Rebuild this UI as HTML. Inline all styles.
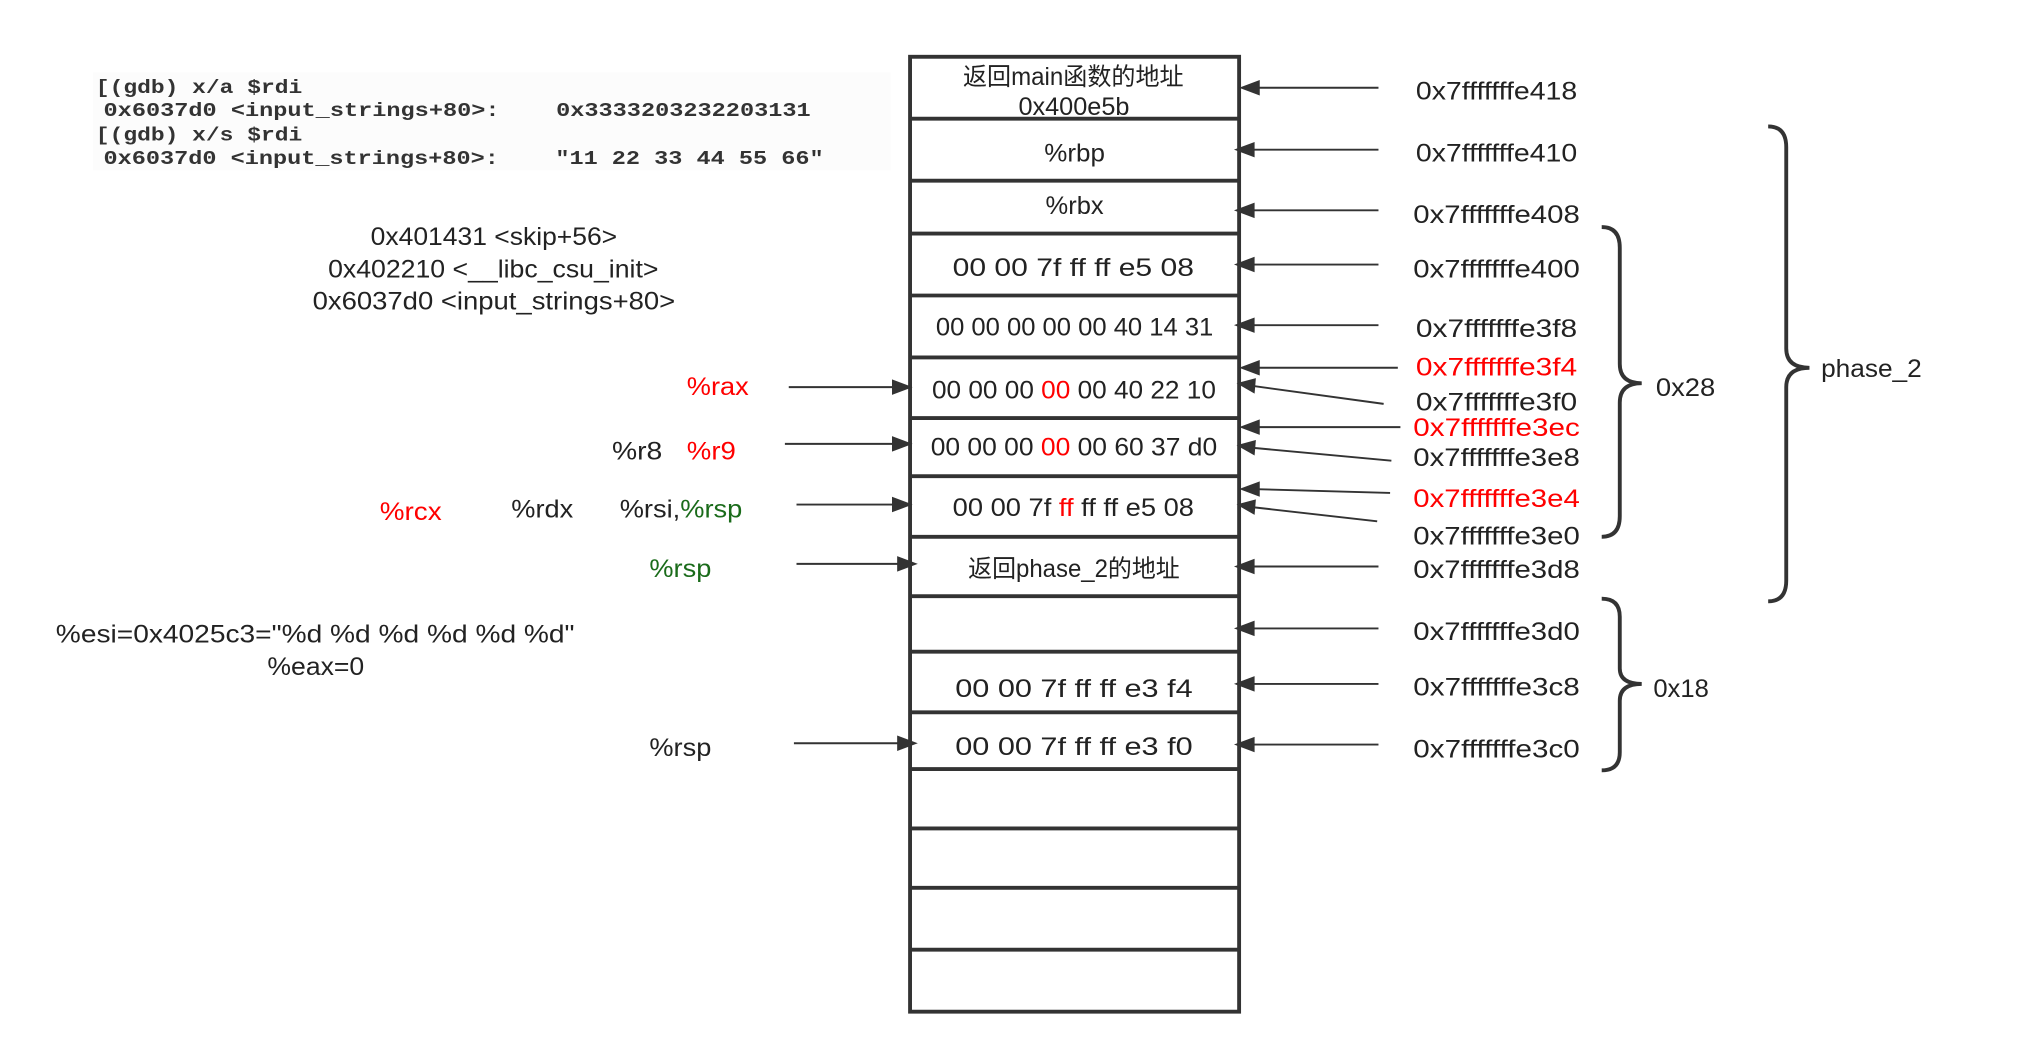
<!DOCTYPE html>
<html><head><meta charset="utf-8"><style>
html,body{margin:0;padding:0;background:#fff;}
svg{display:block;}
text{font-family:"Liberation Sans","Noto Sans CJK SC",sans-serif;fill:#222;}
.m{font-family:"Liberation Mono","DejaVu Sans Mono",monospace;font-weight:bold;fill:#333;font-size:15px;white-space:pre;}
.r{fill:#f00;}
.g{fill:#1a6b1a;}
</style></head><body>
<svg width="2024" height="1062" viewBox="0 0 1568 823" xmlns="http://www.w3.org/2000/svg">
<rect x="72" y="56" width="618" height="76" fill="#fcfcfc"/>
<text class="m" x="74" y="72" textLength="160" lengthAdjust="spacingAndGlyphs" xml:space="preserve">[(gdb) x/a $rdi</text>
<text class="m" x="80" y="90" textLength="548" lengthAdjust="spacingAndGlyphs" xml:space="preserve">0x6037d0 &lt;input_strings+80&gt;:    0x3333203232203131</text>
<text class="m" x="74" y="109" textLength="160" lengthAdjust="spacingAndGlyphs" xml:space="preserve">[(gdb) x/s $rdi</text>
<text class="m" x="80" y="127" textLength="558" lengthAdjust="spacingAndGlyphs" xml:space="preserve">0x6037d0 &lt;input_strings+80&gt;:    "11 22 33 44 55 66"</text>
<g font-size="19" lengthAdjust="spacingAndGlyphs">
<text x="287" y="190" textLength="191" lengthAdjust="spacingAndGlyphs">0x401431 &lt;skip+56&gt;</text>
<text x="254" y="215" textLength="256" lengthAdjust="spacingAndGlyphs">0x402210 &lt;__libc_csu_init&gt;</text>
<text x="242" y="240" textLength="281" lengthAdjust="spacingAndGlyphs">0x6037d0 &lt;input_strings+80&gt;</text>
<text x="207" y="523" textLength="75" lengthAdjust="spacingAndGlyphs">%eax=0</text>
<text x="43" y="498" textLength="402" lengthAdjust="spacingAndGlyphs">%esi=0x4025c3="%d %d %d %d %d %d"</text>
<text class="r" x="532" y="306" textLength="48" lengthAdjust="spacingAndGlyphs">%rax</text>
<text x="474" y="356" textLength="39" lengthAdjust="spacingAndGlyphs">%r8</text>
<text class="r" x="532" y="356" textLength="38" lengthAdjust="spacingAndGlyphs">%r9</text>
<text class="r" x="294" y="403" textLength="48" lengthAdjust="spacingAndGlyphs">%rcx</text>
<text x="396" y="401" textLength="48" lengthAdjust="spacingAndGlyphs">%rdx</text>
<text x="480" y="401" textLength="95" lengthAdjust="spacingAndGlyphs">%rsi,<tspan class="g">%rsp</tspan></text>
<text class="g" x="503" y="447" textLength="48" lengthAdjust="spacingAndGlyphs">%rsp</text>
<text x="503" y="586" textLength="48" lengthAdjust="spacingAndGlyphs">%rsp</text>
</g>
<g stroke="#333" stroke-width="3" fill="none">
<rect x="705" y="44" width="255" height="740"/>
<path d="M705 92H960M705 140H960M705 181H960M705 229H960M705 277H960M705 324H960M705 369H960M705 416H960M705 462H960M705 505H960M705 552H960M705 596H960M705 642H960M705 688H960M705 736H960"/>
</g>
<g font-size="19">
<text x="746" y="66" textLength="171" lengthAdjust="spacingAndGlyphs">返回main函数的地址</text>
<text x="789" y="89" textLength="86" lengthAdjust="spacingAndGlyphs">0x400e5b</text>
<text x="809" y="125" textLength="47" lengthAdjust="spacingAndGlyphs">%rbp</text>
<text x="810" y="166" textLength="45" lengthAdjust="spacingAndGlyphs">%rbx</text>
<text x="738" y="214" textLength="187" lengthAdjust="spacingAndGlyphs">00 00 7f ff ff e5 08</text>
<text x="725" y="260" textLength="215" lengthAdjust="spacingAndGlyphs">00 00 00 00 00 40 14 31</text>
<text x="722" y="309" textLength="220" lengthAdjust="spacingAndGlyphs">00 00 00 <tspan class="r">00</tspan> 00 40 22 10</text>
<text x="721" y="353" textLength="222" lengthAdjust="spacingAndGlyphs">00 00 00 <tspan class="r">00</tspan> 00 60 37 d0</text>
<text x="738" y="400" textLength="187" lengthAdjust="spacingAndGlyphs">00 00 7f <tspan class="r">ff</tspan> ff ff e5 08</text>
<text x="750" y="447" textLength="164" lengthAdjust="spacingAndGlyphs">返回phase_2的地址</text>
<text x="740" y="540" textLength="184" lengthAdjust="spacingAndGlyphs">00 00 7f ff ff e3 f4</text>
<text x="740" y="585" textLength="184" lengthAdjust="spacingAndGlyphs">00 00 7f ff ff e3 f0</text>
</g>
<g stroke="#333" stroke-width="1.5">
<line x1="1068" y1="68" x2="970" y2="68"/>
<line x1="1068" y1="116" x2="970" y2="116"/>
<line x1="1068" y1="163" x2="970" y2="163"/>
<line x1="1068" y1="205" x2="970" y2="205"/>
<line x1="1068" y1="252" x2="970" y2="252"/>
<line x1="1083" y1="285" x2="970" y2="285"/>
<line x1="1072" y1="313" x2="970" y2="299"/>
<line x1="1085" y1="331" x2="970" y2="331"/>
<line x1="1078" y1="357" x2="970" y2="347"/>
<line x1="1077" y1="382" x2="970" y2="379"/>
<line x1="1067" y1="404" x2="970" y2="393"/>
<line x1="1068" y1="439" x2="970" y2="439"/>
<line x1="1068" y1="487" x2="970" y2="487"/>
<line x1="1068" y1="530" x2="970" y2="530"/>
<line x1="1068" y1="577" x2="970" y2="577"/>
<line x1="611" y1="300" x2="695" y2="300"/>
<line x1="608" y1="344" x2="695" y2="344"/>
<line x1="617" y1="391" x2="695" y2="391"/>
<line x1="617" y1="437" x2="698" y2="437"/>
<line x1="615" y1="576" x2="698" y2="576"/>
</g>
<g fill="#333">
<polygon points="960,68 976,62 976,74"/>
<polygon points="956,116 972,110 972,122"/>
<polygon points="956,163 972,157 972,169"/>
<polygon points="956,205 972,199 972,211"/>
<polygon points="956,252 972,246 972,258"/>
<polygon points="960,285 976,279 976,291"/>
<polygon points="958,297 973,293 972,305"/>
<polygon points="960,331 976,325 976,337"/>
<polygon points="958,345 973,341 972,353"/>
<polygon points="960,379 976,373 976,385"/>
<polygon points="958,391 973,387 972,399"/>
<polygon points="956,439 972,433 972,445"/>
<polygon points="956,487 972,481 972,493"/>
<polygon points="956,530 972,524 972,536"/>
<polygon points="956,577 972,571 972,583"/>
<polygon points="707,300 691,294 691,306"/>
<polygon points="707,344 691,338 691,350"/>
<polygon points="707,391 691,385 691,397"/>
<polygon points="711,437 695,431 695,443"/>
<polygon points="711,576 695,570 695,582"/>
</g>
<g font-size="19">
<text x="1097" y="77" textLength="125" lengthAdjust="spacingAndGlyphs">0x7fffffffe418</text>
<text x="1097" y="125" textLength="125" lengthAdjust="spacingAndGlyphs">0x7fffffffe410</text>
<text x="1095" y="173" textLength="129" lengthAdjust="spacingAndGlyphs">0x7fffffffe408</text>
<text x="1095" y="215" textLength="129" lengthAdjust="spacingAndGlyphs">0x7fffffffe400</text>
<text x="1097" y="261" textLength="125" lengthAdjust="spacingAndGlyphs">0x7fffffffe3f8</text>
<text class="r" x="1097" y="291" textLength="125" lengthAdjust="spacingAndGlyphs">0x7fffffffe3f4</text>
<text x="1097" y="318" textLength="125" lengthAdjust="spacingAndGlyphs">0x7fffffffe3f0</text>
<text class="r" x="1095" y="338" textLength="129" lengthAdjust="spacingAndGlyphs">0x7fffffffe3ec</text>
<text x="1095" y="361" textLength="129" lengthAdjust="spacingAndGlyphs">0x7fffffffe3e8</text>
<text class="r" x="1095" y="393" textLength="129" lengthAdjust="spacingAndGlyphs">0x7fffffffe3e4</text>
<text x="1095" y="422" textLength="129" lengthAdjust="spacingAndGlyphs">0x7fffffffe3e0</text>
<text x="1095" y="448" textLength="129" lengthAdjust="spacingAndGlyphs">0x7fffffffe3d8</text>
<text x="1095" y="496" textLength="129" lengthAdjust="spacingAndGlyphs">0x7fffffffe3d0</text>
<text x="1095" y="539" textLength="129" lengthAdjust="spacingAndGlyphs">0x7fffffffe3c8</text>
<text x="1095" y="587" textLength="129" lengthAdjust="spacingAndGlyphs">0x7fffffffe3c0</text>
<text x="1283" y="307" textLength="46" lengthAdjust="spacingAndGlyphs">0x28</text>
<text x="1281" y="540" textLength="43" lengthAdjust="spacingAndGlyphs">0x18</text>
<text x="1411" y="292" textLength="78" lengthAdjust="spacingAndGlyphs">phase_2</text>
</g>
<g stroke="#333" stroke-width="3" fill="none">
<path d="M1241 176 Q1255 176 1255 192 V282 Q1255 297 1272 297 Q1255 297 1255 312 V400 Q1255 416 1241 416"/>
<path d="M1370 98 Q1384 98 1384 114 V270 Q1384 285 1402 285 Q1384 285 1384 300 V450 Q1384 466 1370 466"/>
<path d="M1241 464 Q1255 464 1255 478 V518 Q1255 530 1272 530 Q1255 530 1255 543 V583 Q1255 597 1241 597"/>
</g>
</svg>
</body></html>
